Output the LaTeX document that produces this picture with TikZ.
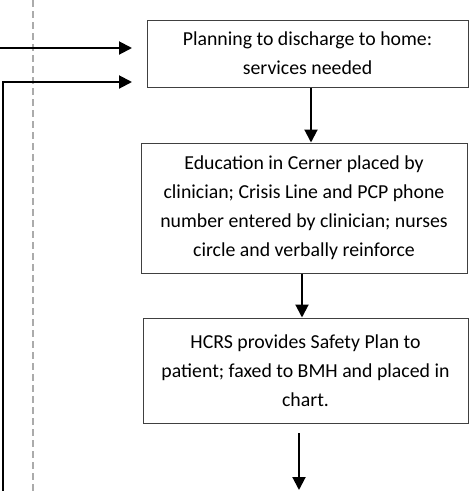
\documentclass[tikz,border=0pt]{standalone}
\usepackage{fontspec}
\setmainfont{Carlito}
\usetikzlibrary{arrows.meta}
\begin{document}
\begin{tikzpicture}[x=1pt,y=-1pt,
  box/.style={draw=black!75, line width=1pt, rectangle, align=center, inner sep=0pt,
    font=\fontsize{19.8}{29}\selectfont},
  arr/.style={line width=2pt, line join=miter, -{Triangle[length=13pt,width=13pt]}},
  sepline/.style={draw=black!33, line width=2pt, dash pattern=on 7pt off 4pt}]
\useasboundingbox (0,0) rectangle (469,491);
% separator
\coordinate (dtop) at (33,0);
\coordinate (dbot) at (33,491);
\draw[sepline] (dtop) -- (dbot);
% boxes
\node[box, minimum width=321pt, minimum height=67pt] (box1) at (307.5,53.5)
  {Planning to discharge to home:\\ services needed};
\node[box, minimum width=326pt, minimum height=130pt] (box2) at (304,208)
  {Education in Cerner placed by\\ clinician; Crisis Line and PCP phone\\ number entered by clinician; nurses\\ circle and verbally reinforce};
\node[box, minimum width=325pt, minimum height=105pt] (box3) at (305.5,370.5)
  {HCRS provides Safety Plan to\\ patient; faxed to BMH and placed in\\ chart.};
% incoming arrows
\coordinate (a1s) at (0,48);
\coordinate (a1e) at (132,48);
\coordinate (a2s) at (2.5,491);
\coordinate (a2c) at (2.5,82);
\coordinate (a2e) at (132,82);
\draw[arr] (a1s) -- (a1e);
\draw[arr] (a2s) -- (a2c) -- (a2e);
% vertical arrows
\coordinate (x12) at (311,0);
\coordinate (x23) at (302,0);
\draw[arr] (box1.south -| x12) -- (box2.north -| x12);
\draw[arr] (box2.south -| x23) -- (box3.north -| x23);
\coordinate (s4) at (299,433);
\coordinate (e4) at (299,490);
\draw[arr] (s4) -- (e4);
\end{tikzpicture}
\end{document}
